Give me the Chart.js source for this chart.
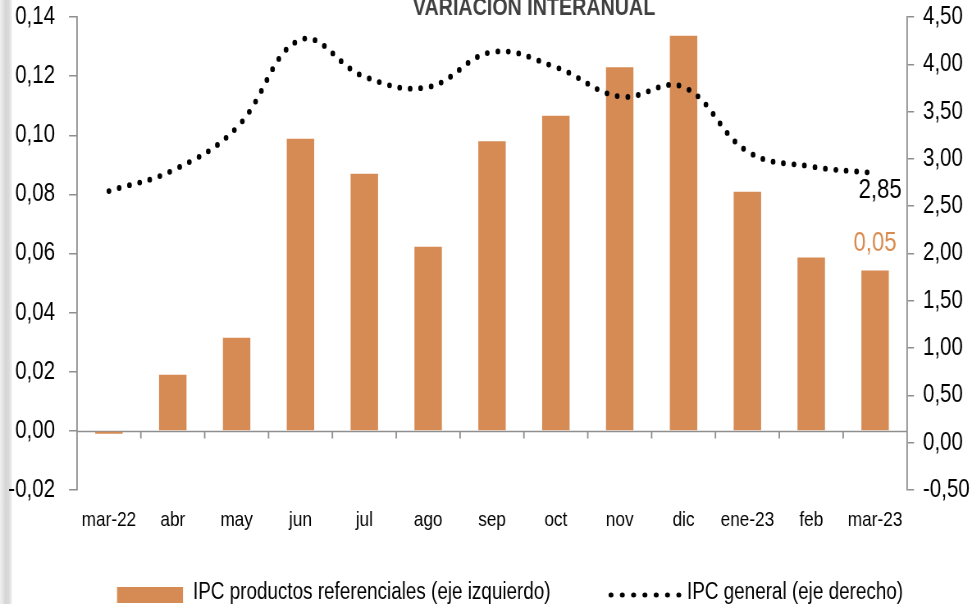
<!DOCTYPE html>
<html>
<head>
<meta charset="utf-8">
<script src="https://cdn.jsdelivr.net/npm/chart.js@4/dist/chart.umd.min.js"></script>
<style>
  html, body { margin: 0; padding: 0; background: #ffffff; }
  #wrap { position: relative; width: 972px; height: 604px; overflow: hidden; background: #fff; }
  #strip { position: absolute; left: 0; top: 0; width: 12px; height: 604px; z-index: 0;
    background: linear-gradient(to right, #efefef 0%, #e6e6e6 20%, #d6d6d6 45%, #dadada 75%, #f3f3f3 100%); }
  /* narrow look: the chart is drawn on a wider canvas and condensed horizontally */
  #c { position: absolute; left: 0; top: 0; z-index: 1; transform: scaleX(0.82025); transform-origin: 0 0; }
</style>
</head>
<body>
<div id="wrap">
  <div id="strip"></div>
  <canvas id="c" width="1185" height="604"></canvas>
</div>
<script>
const categories = ["mar-22","abr","may","jun","jul","ago","sep","oct","nov","dic","ene-23","feb","mar-23"];
const ipcReferenciales = [-0.001, 0.019, 0.0315, 0.0988, 0.087, 0.0623, 0.098, 0.1066, 0.123, 0.1337, 0.0809, 0.0587, 0.0543];
const ipcGeneral = [2.66, 2.88, 3.33, 4.26, 3.87, 3.76, 4.13, 3.97, 3.66, 3.76, 3.08, 2.92, 2.85];
const leftTicks = { min: -0.02, max: 0.14, step: 0.02 };
const rightTicks = { min: -0.5, max: 4.5, step: 0.5 };
const seriesNames = ["IPC productos referenciales (eje izquierdo)", "IPC general (eje derecho)"];
const titleText = "VARIACIÓN INTERANUAL";

const S = 972 / 1185;           // horizontal condense factor
const X = v => v / S;           // screen x -> canvas x
const FONT = "'Liberation Sans', Arial, sans-serif";
const ORANGE = "#D68B55";
const AXIS = "#8f8f8f";
const PLOT_TOP = 17;            // wanted top of plot area on screen
let OFF = 0;                    // vertical shift of canvas (set after first layout)
const fmt = (v, d) => v.toFixed(d).replace(".", ",");

const extras = {
  id: "extras",
  beforeDatasetsDraw(chart) {
    const ctx = chart.ctx, x = chart.scales.x, y = chart.scales.y;
    const y0 = Math.round(y.getPixelForValue(0)) + 0.5;
    ctx.save();
    ctx.strokeStyle = AXIS; ctx.lineWidth = 1.5;
    ctx.beginPath();
    ctx.moveTo(chart.chartArea.left, y0); ctx.lineTo(chart.chartArea.right, y0);
    ctx.stroke();
    ctx.lineWidth = 1.8;
    ctx.beginPath();
    for (let i = 1; i < categories.length; i++) {
      const bx = (x.getPixelForValue(i - 1) + x.getPixelForValue(i)) / 2;
      ctx.moveTo(bx, y0); ctx.lineTo(bx, y0 + 7);
    }
    ctx.stroke();
    ctx.restore();
  },
  afterDatasetsDraw(chart) {
    const ctx = chart.ctx;
    const last = categories.length - 1;
    const barEl = chart.getDatasetMeta(0).data[last];
    const ptEl = chart.getDatasetMeta(1).data[last];
    ctx.save();
    ctx.textAlign = "center"; ctx.textBaseline = "middle";
    ctx.font = "27px " + FONT;
    ctx.fillStyle = "#D98B4F";
    ctx.fillText(fmt(ipcReferenciales[last], 2), barEl.x, barEl.y - 27);
    ctx.fillStyle = "#000";
    ctx.fillText(fmt(ipcGeneral[last], 2), ptEl.x + X(5), ptEl.y + 17);

    // title
    ctx.fillStyle = "#404040";
    ctx.font = "bold 24px " + FONT;
    ctx.textBaseline = "alphabetic";
    ctx.fillText(titleText, X(534), 15 + OFF);

    // legend
    ctx.textAlign = "left"; ctx.textBaseline = "middle";
    ctx.font = "23px " + FONT;
    ctx.fillStyle = ORANGE;
    ctx.fillRect(X(117), 587 + OFF, X(66), 16);
    ctx.fillStyle = "#000";
    ctx.fillText(seriesNames[0], X(193), 593 + OFF);
    for (let i = 0; i < 7; i++) {
      ctx.beginPath();
      ctx.ellipse(X(611 + i * 11.3), 595 + OFF, X(2.5), 2.5, 0, 0, Math.PI * 2);
      ctx.fill();
    }
    ctx.fillText(seriesNames[1], X(687), 593 + OFF);
    ctx.restore();
  }
};

function build(canvas) {
  return new Chart(canvas, {
    data: {
      labels: categories,
      datasets: [
        {
          type: "bar", label: seriesNames[0], data: ipcReferenciales, yAxisID: "y",
          backgroundColor: ORANGE, barPercentage: 0.43, categoryPercentage: 1, order: 1
        },
        {
          type: "line", label: seriesNames[1], data: ipcGeneral, yAxisID: "y1",
          borderColor: "#000", borderWidth: 5.8, borderDash: [0, 12.8], borderCapStyle: "round",
          pointRadius: 0, tension: 0.4, fill: false, order: 0
        }
      ]
    },
    options: {
      responsive: false, maintainAspectRatio: false, devicePixelRatio: 1, animation: false,
      layout: { padding: { top: 2, left: 0, right: 0, bottom: 0 } },
      plugins: { legend: { display: false }, title: { display: false }, tooltip: { enabled: false } },
      scales: {
        x: {
          type: "category", offset: true,
          grid: { display: false }, border: { display: false },
          ticks: { color: "#000", font: { family: FONT, size: 21 }, padding: 10, maxRotation: 0, autoSkip: false },
          afterFit(s) { s.height = 114; }
        },
        y: {
          position: "left", min: leftTicks.min, max: leftTicks.max,
          ticks: { stepSize: leftTicks.step, color: "#000", font: { family: FONT, size: 25 }, padding: X(14),
                   callback: v => fmt(v, 2) },
          grid: { drawOnChartArea: false, tickLength: X(8), color: AXIS, lineWidth: 1.5 },
          border: { color: AXIS, width: 1.8 },
          afterFit(s) { s.width = X(77); }
        },
        y1: {
          position: "right", min: rightTicks.min, max: rightTicks.max,
          ticks: { stepSize: rightTicks.step, color: "#000", font: { family: FONT, size: 25 }, padding: X(9),
                   callback: v => fmt(v, 2) },
          grid: { drawOnChartArea: false, tickLength: X(7), color: AXIS, lineWidth: 1.5 },
          border: { color: AXIS, width: 1.8 },
          afterFit(s) { s.width = X(65); }
        }
      }
    },
    plugins: [extras]
  });
}

const cv = document.getElementById("c");
let chart = build(cv);
const d = Math.round(chart.chartArea.top - PLOT_TOP);
if (d > 0) {
  chart.destroy();
  OFF = d;
  cv.width = 1185;
  cv.height = 604 + d;
  cv.style.top = (-d) + "px";
  chart = build(cv);
}
</script>
</body>
</html>
